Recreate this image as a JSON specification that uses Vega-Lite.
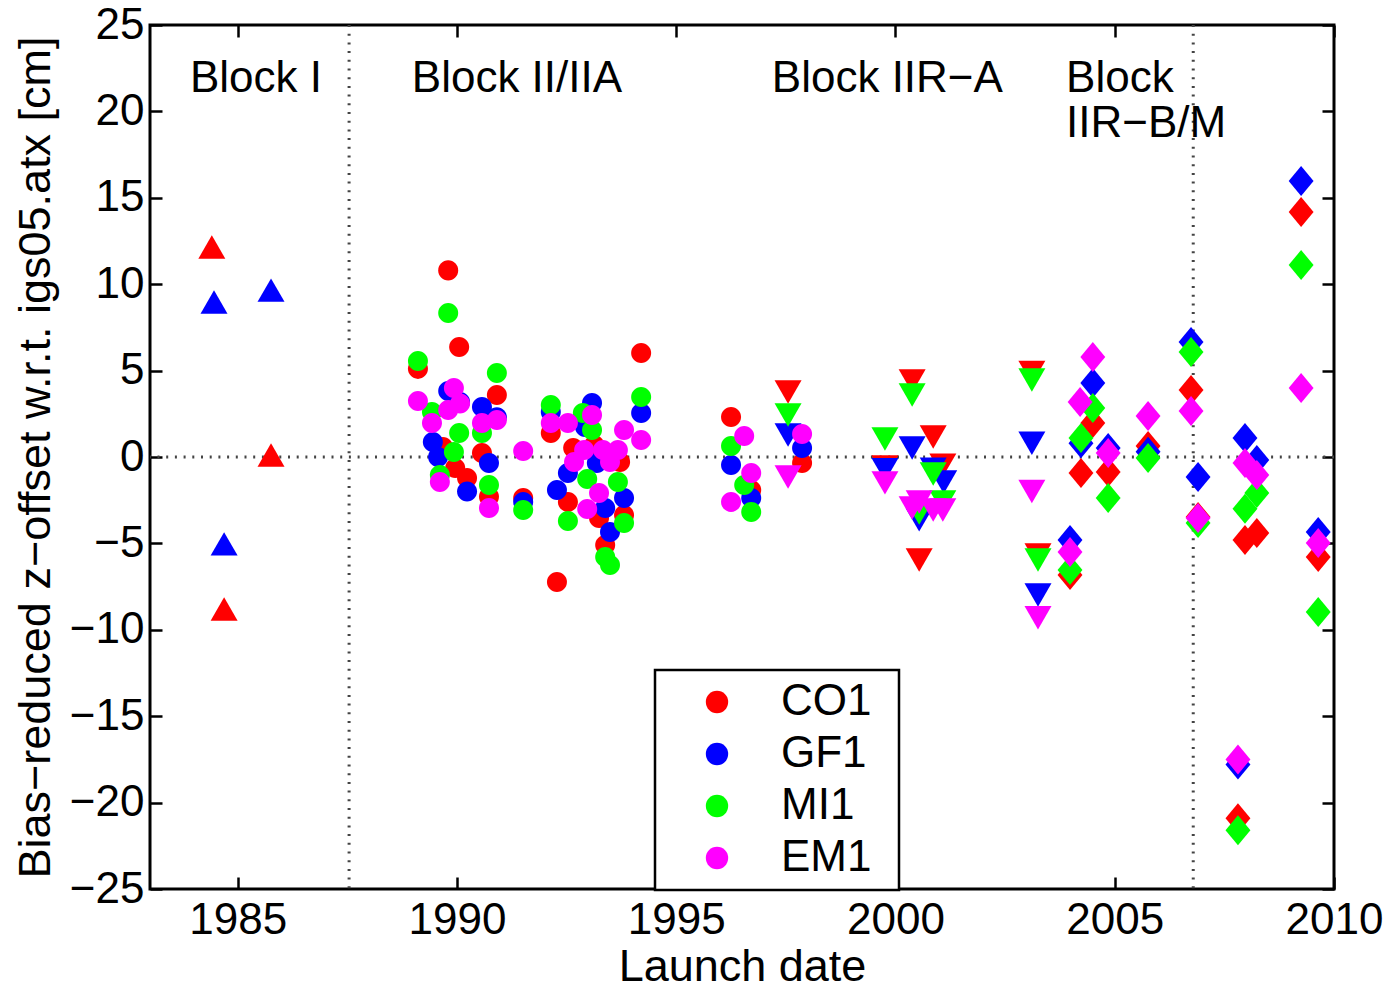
{
 "$schema": "https://vega.github.io/schema/vega-lite/v6.json",
 "width": 1184,
 "height": 864,
 "autosize": {"type": "none"},
 "padding": {"left": 150, "top": 25, "right": 52, "bottom": 103},
 "background": "white",
 "config": {
  "font": "Liberation Sans",
  "view": {"stroke": "black", "strokeWidth": 3},
  "axis": {"grid": false, "domain": false, "tickColor": "black", "tickWidth": 2.5, "tickSize": -12, "labelColor": "black", "labelFontSize": 44, "labelFont": "Liberation Sans", "titleFont": "Liberation Sans", "titleFontSize": 45, "titleFontWeight": "normal", "titleColor": "black", "labelFlush": false, "labelOverlap": false, "labelBound": false}
 },
 "datasets": {
  "pts": [
   {"series":"CO1","block":"Block I","year":1984.41,"value":12.15},
   {"series":"CO1","block":"Block I","year":1985.76,"value":0.12},
   {"series":"CO1","block":"Block I","year":1984.69,"value":-8.8},
   {"series":"CO1","block":"Block II/IIA","year":1989.11,"value":5.1},
   {"series":"CO1","block":"Block II/IIA","year":1989.80,"value":10.8},
   {"series":"CO1","block":"Block II/IIA","year":1990.05,"value":6.37},
   {"series":"CO1","block":"Block II/IIA","year":1990.91,"value":3.59},
   {"series":"CO1","block":"Block II/IIA","year":1989.68,"value":0.58},
   {"series":"CO1","block":"Block II/IIA","year":1990.57,"value":0.23},
   {"series":"CO1","block":"Block II/IIA","year":1989.96,"value":-0.64},
   {"series":"CO1","block":"Block II/IIA","year":1990.23,"value":-1.22},
   {"series":"CO1","block":"Block II/IIA","year":1990.73,"value":-2.3},
   {"series":"CO1","block":"Block II/IIA","year":1991.51,"value":-2.37},
   {"series":"CO1","block":"Block II/IIA","year":1992.14,"value":1.39},
   {"series":"CO1","block":"Block II/IIA","year":1992.65,"value":0.52},
   {"series":"CO1","block":"Block II/IIA","year":1993.13,"value":0.69},
   {"series":"CO1","block":"Block II/IIA","year":1993.72,"value":-0.29},
   {"series":"CO1","block":"Block II/IIA","year":1992.53,"value":-2.6},
   {"series":"CO1","block":"Block II/IIA","year":1993.24,"value":-3.53},
   {"series":"CO1","block":"Block II/IIA","year":1993.81,"value":-3.36},
   {"series":"CO1","block":"Block II/IIA","year":1993.38,"value":-5.09},
   {"series":"CO1","block":"Block II/IIA","year":1992.28,"value":-7.23},
   {"series":"CO1","block":"Block II/IIA","year":1994.20,"value":6.02},
   {"series":"CO1","block":"Block II/IIA","year":1996.25,"value":2.31},
   {"series":"CO1","block":"Block II/IIA","year":1996.71,"value":-1.91},
   {"series":"CO1","block":"Block II/IIA","year":1997.87,"value":-0.35},
   {"series":"CO1","block":"Block IIR-A","year":1997.55,"value":3.76},
   {"series":"CO1","block":"Block IIR-A","year":1999.76,"value":-0.58},
   {"series":"CO1","block":"Block IIR-A","year":2000.38,"value":4.4},
   {"series":"CO1","block":"Block IIR-A","year":2000.54,"value":-5.96},
   {"series":"CO1","block":"Block IIR-A","year":2000.86,"value":1.16},
   {"series":"CO1","block":"Block IIR-A","year":2001.08,"value":-0.47},
   {"series":"CO1","block":"Block IIR-A","year":2003.11,"value":4.9},
   {"series":"CO1","block":"Block IIR-A","year":2003.25,"value":-5.67},
   {"series":"CO1","block":"Block IIR-B/M","year":2003.98,"value":-6.83},
   {"series":"CO1","block":"Block IIR-B/M","year":2004.23,"value":-0.93},
   {"series":"CO1","block":"Block IIR-B/M","year":2004.50,"value":1.97},
   {"series":"CO1","block":"Block IIR-B/M","year":2004.85,"value":-0.87},
   {"series":"CO1","block":"Block IIR-B/M","year":2005.76,"value":0.64},
   {"series":"CO1","block":"Block IIR-B/M","year":2006.74,"value":3.88},
   {"series":"CO1","block":"Block IIR-B/M","year":2006.90,"value":-3.47},
   {"series":"CO1","block":"Block IIR-B/M","year":2007.81,"value":-20.9},
   {"series":"CO1","block":"Block IIR-B/M","year":2007.97,"value":-4.8},
   {"series":"CO1","block":"Block IIR-B/M","year":2008.24,"value":-4.4},
   {"series":"CO1","block":"Block IIR-B/M","year":2009.25,"value":14.18},
   {"series":"CO1","block":"Block IIR-B/M","year":2009.64,"value":-5.79},
   {"series":"GF1","block":"Block I","year":1984.46,"value":8.97},
   {"series":"GF1","block":"Block I","year":1985.76,"value":9.66},
   {"series":"GF1","block":"Block I","year":1984.69,"value":-5.03},
   {"series":"GF1","block":"Block II/IIA","year":1989.80,"value":3.82},
   {"series":"GF1","block":"Block II/IIA","year":1990.07,"value":3.18},
   {"series":"GF1","block":"Block II/IIA","year":1990.57,"value":2.9},
   {"series":"GF1","block":"Block II/IIA","year":1990.91,"value":2.3},
   {"series":"GF1","block":"Block II/IIA","year":1989.45,"value":0.87},
   {"series":"GF1","block":"Block II/IIA","year":1989.57,"value":0.0},
   {"series":"GF1","block":"Block II/IIA","year":1990.73,"value":-0.35},
   {"series":"GF1","block":"Block II/IIA","year":1990.23,"value":-2.0},
   {"series":"GF1","block":"Block II/IIA","year":1991.51,"value":-2.6},
   {"series":"GF1","block":"Block II/IIA","year":1992.14,"value":2.6},
   {"series":"GF1","block":"Block II/IIA","year":1993.08,"value":3.12},
   {"series":"GF1","block":"Block II/IIA","year":1992.92,"value":1.74},
   {"series":"GF1","block":"Block II/IIA","year":1993.19,"value":-0.35},
   {"series":"GF1","block":"Block II/IIA","year":1992.53,"value":-0.93},
   {"series":"GF1","block":"Block II/IIA","year":1992.28,"value":-1.91},
   {"series":"GF1","block":"Block II/IIA","year":1993.81,"value":-2.37},
   {"series":"GF1","block":"Block II/IIA","year":1993.38,"value":-2.95},
   {"series":"GF1","block":"Block II/IIA","year":1993.49,"value":-4.34},
   {"series":"GF1","block":"Block II/IIA","year":1994.20,"value":2.55},
   {"series":"GF1","block":"Block II/IIA","year":1996.25,"value":-0.46},
   {"series":"GF1","block":"Block II/IIA","year":1996.71,"value":-2.37},
   {"series":"GF1","block":"Block II/IIA","year":1997.87,"value":0.52},
   {"series":"GF1","block":"Block IIR-A","year":1997.55,"value":1.27},
   {"series":"GF1","block":"Block IIR-A","year":1999.76,"value":-0.73},
   {"series":"GF1","block":"Block IIR-A","year":2000.38,"value":0.52},
   {"series":"GF1","block":"Block IIR-A","year":2000.54,"value":-3.64},
   {"series":"GF1","block":"Block IIR-A","year":2000.86,"value":-0.7},
   {"series":"GF1","block":"Block IIR-A","year":2001.10,"value":-1.45},
   {"series":"GF1","block":"Block IIR-A","year":2003.11,"value":0.8},
   {"series":"GF1","block":"Block IIR-A","year":2003.25,"value":-7.99},
   {"series":"GF1","block":"Block IIR-B/M","year":2003.98,"value":-4.8},
   {"series":"GF1","block":"Block IIR-B/M","year":2004.23,"value":0.8},
   {"series":"GF1","block":"Block IIR-B/M","year":2004.50,"value":4.28},
   {"series":"GF1","block":"Block IIR-B/M","year":2004.85,"value":0.52},
   {"series":"GF1","block":"Block IIR-B/M","year":2005.76,"value":0.3},
   {"series":"GF1","block":"Block IIR-B/M","year":2006.74,"value":6.66},
   {"series":"GF1","block":"Block IIR-B/M","year":2006.90,"value":-1.16},
   {"series":"GF1","block":"Block IIR-B/M","year":2007.81,"value":-17.8},
   {"series":"GF1","block":"Block IIR-B/M","year":2007.97,"value":1.1},
   {"series":"GF1","block":"Block IIR-B/M","year":2008.24,"value":-0.17},
   {"series":"GF1","block":"Block IIR-B/M","year":2009.25,"value":15.97},
   {"series":"GF1","block":"Block IIR-B/M","year":2009.64,"value":-4.34},
   {"series":"MI1","block":"Block II/IIA","year":1989.11,"value":5.55},
   {"series":"MI1","block":"Block II/IIA","year":1989.80,"value":8.33},
   {"series":"MI1","block":"Block II/IIA","year":1990.91,"value":4.86},
   {"series":"MI1","block":"Block II/IIA","year":1989.43,"value":2.6},
   {"series":"MI1","block":"Block II/IIA","year":1990.57,"value":1.39},
   {"series":"MI1","block":"Block II/IIA","year":1990.05,"value":1.39},
   {"series":"MI1","block":"Block II/IIA","year":1989.93,"value":0.29},
   {"series":"MI1","block":"Block II/IIA","year":1989.61,"value":-1.04},
   {"series":"MI1","block":"Block II/IIA","year":1990.73,"value":-1.62},
   {"series":"MI1","block":"Block II/IIA","year":1991.51,"value":-3.07},
   {"series":"MI1","block":"Block II/IIA","year":1992.14,"value":3.01},
   {"series":"MI1","block":"Block II/IIA","year":1992.87,"value":2.55},
   {"series":"MI1","block":"Block II/IIA","year":1993.08,"value":1.56},
   {"series":"MI1","block":"Block II/IIA","year":1994.20,"value":3.47},
   {"series":"MI1","block":"Block II/IIA","year":1992.97,"value":-1.27},
   {"series":"MI1","block":"Block II/IIA","year":1993.67,"value":-1.45},
   {"series":"MI1","block":"Block II/IIA","year":1992.53,"value":-3.7},
   {"series":"MI1","block":"Block II/IIA","year":1993.81,"value":-3.82},
   {"series":"MI1","block":"Block II/IIA","year":1993.38,"value":-5.79},
   {"series":"MI1","block":"Block II/IIA","year":1993.49,"value":-6.25},
   {"series":"MI1","block":"Block II/IIA","year":1996.25,"value":0.64},
   {"series":"MI1","block":"Block II/IIA","year":1996.55,"value":-1.62},
   {"series":"MI1","block":"Block II/IIA","year":1996.71,"value":-3.18},
   {"series":"MI1","block":"Block IIR-A","year":1997.55,"value":2.43},
   {"series":"MI1","block":"Block IIR-A","year":1999.76,"value":1.04},
   {"series":"MI1","block":"Block IIR-A","year":2000.38,"value":3.59},
   {"series":"MI1","block":"Block IIR-A","year":2000.54,"value":-3.24},
   {"series":"MI1","block":"Block IIR-A","year":2000.86,"value":-0.98},
   {"series":"MI1","block":"Block IIR-A","year":2001.08,"value":-2.6},
   {"series":"MI1","block":"Block IIR-A","year":2003.11,"value":4.46},
   {"series":"MI1","block":"Block IIR-A","year":2003.25,"value":-5.96},
   {"series":"MI1","block":"Block IIR-B/M","year":2003.98,"value":-6.54},
   {"series":"MI1","block":"Block IIR-B/M","year":2004.23,"value":1.1},
   {"series":"MI1","block":"Block IIR-B/M","year":2004.50,"value":2.84},
   {"series":"MI1","block":"Block IIR-B/M","year":2004.85,"value":-2.37},
   {"series":"MI1","block":"Block IIR-B/M","year":2005.76,"value":-0.06},
   {"series":"MI1","block":"Block IIR-B/M","year":2006.74,"value":6.08},
   {"series":"MI1","block":"Block IIR-B/M","year":2006.90,"value":-3.82},
   {"series":"MI1","block":"Block IIR-B/M","year":2007.81,"value":-21.6},
   {"series":"MI1","block":"Block IIR-B/M","year":2007.97,"value":-3.0},
   {"series":"MI1","block":"Block IIR-B/M","year":2008.24,"value":-2.08},
   {"series":"MI1","block":"Block IIR-B/M","year":2009.25,"value":11.11},
   {"series":"MI1","block":"Block IIR-B/M","year":2009.64,"value":-8.97},
   {"series":"EM1","block":"Block II/IIA","year":1989.11,"value":3.24},
   {"series":"EM1","block":"Block II/IIA","year":1989.93,"value":3.99},
   {"series":"EM1","block":"Block II/IIA","year":1990.07,"value":3.1},
   {"series":"EM1","block":"Block II/IIA","year":1989.80,"value":2.72},
   {"series":"EM1","block":"Block II/IIA","year":1989.43,"value":1.97},
   {"series":"EM1","block":"Block II/IIA","year":1990.57,"value":1.97},
   {"series":"EM1","block":"Block II/IIA","year":1990.91,"value":2.14},
   {"series":"EM1","block":"Block II/IIA","year":1989.61,"value":-1.45},
   {"series":"EM1","block":"Block II/IIA","year":1990.73,"value":-2.95},
   {"series":"EM1","block":"Block II/IIA","year":1991.51,"value":0.35},
   {"series":"EM1","block":"Block II/IIA","year":1992.14,"value":1.97},
   {"series":"EM1","block":"Block II/IIA","year":1992.53,"value":1.97},
   {"series":"EM1","block":"Block II/IIA","year":1993.08,"value":2.43},
   {"series":"EM1","block":"Block II/IIA","year":1993.81,"value":1.56},
   {"series":"EM1","block":"Block II/IIA","year":1994.20,"value":0.98},
   {"series":"EM1","block":"Block II/IIA","year":1992.90,"value":0.41},
   {"series":"EM1","block":"Block II/IIA","year":1992.67,"value":-0.29},
   {"series":"EM1","block":"Block II/IIA","year":1993.33,"value":0.41},
   {"series":"EM1","block":"Block II/IIA","year":1993.67,"value":0.41},
   {"series":"EM1","block":"Block II/IIA","year":1993.49,"value":-0.29},
   {"series":"EM1","block":"Block II/IIA","year":1993.24,"value":-2.08},
   {"series":"EM1","block":"Block II/IIA","year":1992.97,"value":-3.01},
   {"series":"EM1","block":"Block II/IIA","year":1996.55,"value":1.22},
   {"series":"EM1","block":"Block II/IIA","year":1996.71,"value":-0.93},
   {"series":"EM1","block":"Block II/IIA","year":1996.25,"value":-2.6},
   {"series":"EM1","block":"Block II/IIA","year":1997.87,"value":1.33},
   {"series":"EM1","block":"Block IIR-A","year":1997.55,"value":-1.16},
   {"series":"EM1","block":"Block IIR-A","year":1999.76,"value":-1.5},
   {"series":"EM1","block":"Block IIR-A","year":2000.38,"value":-2.95},
   {"series":"EM1","block":"Block IIR-A","year":2000.54,"value":-2.6},
   {"series":"EM1","block":"Block IIR-A","year":2000.86,"value":-3.07},
   {"series":"EM1","block":"Block IIR-A","year":2001.08,"value":-3.07},
   {"series":"EM1","block":"Block IIR-A","year":2003.11,"value":-2.0},
   {"series":"EM1","block":"Block IIR-A","year":2003.25,"value":-9.3},
   {"series":"EM1","block":"Block IIR-B/M","year":2003.98,"value":-5.5},
   {"series":"EM1","block":"Block IIR-B/M","year":2004.21,"value":3.18},
   {"series":"EM1","block":"Block IIR-B/M","year":2004.50,"value":5.79},
   {"series":"EM1","block":"Block IIR-B/M","year":2004.85,"value":0.23},
   {"series":"EM1","block":"Block IIR-B/M","year":2005.76,"value":2.37},
   {"series":"EM1","block":"Block IIR-B/M","year":2006.74,"value":2.66},
   {"series":"EM1","block":"Block IIR-B/M","year":2006.90,"value":-3.53},
   {"series":"EM1","block":"Block IIR-B/M","year":2007.81,"value":-17.5},
   {"series":"EM1","block":"Block IIR-B/M","year":2007.97,"value":-0.35},
   {"series":"EM1","block":"Block IIR-B/M","year":2008.24,"value":-1.04},
   {"series":"EM1","block":"Block IIR-B/M","year":2009.25,"value":3.99},
   {"series":"EM1","block":"Block IIR-B/M","year":2009.64,"value":-4.98}
  ]
 },
 "resolve": {"axis": {"x": "independent", "y": "independent"}},
 "layer": [
  {
   "data": {"values": [{"year": 1987.54}, {"year": 2006.79}]},
   "mark": {"type": "rule", "strokeDash": [2, 6.7], "strokeWidth": 3, "color": "#444444"},
   "encoding": {"x": {"field": "year", "type": "quantitative", "scale": {"domain": [1983, 2010], "nice": false, "zero": false}, "axis": null}}
  },
  {
   "data": {"values": [{"value": 0}]},
   "mark": {"type": "rule", "strokeDash": [2, 6.7], "strokeWidth": 3, "color": "#444444"},
   "encoding": {"y": {"field": "value", "type": "quantitative", "scale": {"domain": [-25, 25], "nice": false}, "axis": null}}
  },
  {
   "data": {"name": "pts"},
   "mark": {"type": "point", "filled": true, "opacity": 1, "size": 900, "strokeWidth": 0},
   "encoding": {
    "x": {"field": "year", "type": "quantitative", "scale": {"domain": [1983, 2010], "nice": false, "zero": false},
          "axis": {"orient": "bottom", "values": [1985, 1990, 1995, 2000, 2005, 2010], "format": "d", "title": "Launch date", "labelPadding": 21, "titlePadding": 2}},
    "y": {"field": "value", "type": "quantitative", "scale": {"domain": [-25, 25], "nice": false},
          "axis": {"orient": "left", "values": [-25, -20, -15, -10, -5, 0, 5, 10, 15, 20, 25], "title": "Bias−reduced z−offset w.r.t. igs05.atx [cm]", "labelPadding": 18, "titlePadding": 11}},
    "color": {"field": "series", "type": "nominal",
              "scale": {"domain": ["CO1", "GF1", "MI1", "EM1"], "range": ["#ff0000", "#0000ff", "#00ff00", "#ff00ff"]},
              "legend": {"title": " ", "titleOrient": "right", "titleFontSize": 1, "titlePadding": 18, "orient": "none", "legendX": 505, "legendY": 645, "symbolType": "circle", "symbolSize": 500, "symbolStrokeWidth": 0, "symbolOpacity": 1, "labelFontSize": 44, "labelFont": "Liberation Sans", "labelColor": "black", "labelOffset": 42, "symbolOffset": 30, "padding": 10, "rowPadding": 8, "strokeColor": "black", "fillColor": "white",
                         "encode": {"legend": {"update": {"strokeWidth": {"value": 2.5}}}}}},
    "shape": {"field": "block", "type": "nominal",
              "scale": {"domain": ["Block I", "Block II/IIA", "Block IIR-A", "Block IIR-B/M"],
                        "range": ["M0,-0.78L0.9,0.78L-0.9,0.78Z",
                                  "M0.667,0C0.667,0.368,0.368,0.667,0,0.667C-0.368,0.667,-0.667,0.368,-0.667,0C-0.667,-0.368,-0.368,-0.667,0,-0.667C0.368,-0.667,0.667,-0.368,0.667,0Z",
                                  "M0,0.78L0.9,-0.78L-0.9,-0.78Z",
                                  "M0,-1L0.83,0L0,1L-0.83,0Z"]},
              "legend": null}
   }
  },
  {
   "data": {"values": [
     {"label": "Block I", "year": 1983.91, "value": 21.1},
     {"label": "Block II/IIA", "year": 1988.97, "value": 21.1},
     {"label": "Block IIR−A", "year": 1997.18, "value": 21.1},
     {"label": "Block\nIIR−B/M", "year": 2003.89, "value": 21.1}
   ]},
   "mark": {"type": "text", "align": "left", "baseline": "alphabetic", "fontSize": 44, "font": "Liberation Sans", "color": "black", "lineBreak": "\n", "lineHeight": 45},
   "encoding": {
    "x": {"field": "year", "type": "quantitative", "scale": {"domain": [1983, 2010], "nice": false, "zero": false},
          "axis": {"orient": "top", "values": [1985, 1990, 1995, 2000, 2005, 2010], "labels": false, "title": null}},
    "y": {"field": "value", "type": "quantitative", "scale": {"domain": [-25, 25], "nice": false},
          "axis": {"orient": "right", "values": [-25, -20, -15, -10, -5, 0, 5, 10, 15, 20, 25], "labels": false, "title": null}},
    "text": {"field": "label"}
   }
  }
 ]
}
